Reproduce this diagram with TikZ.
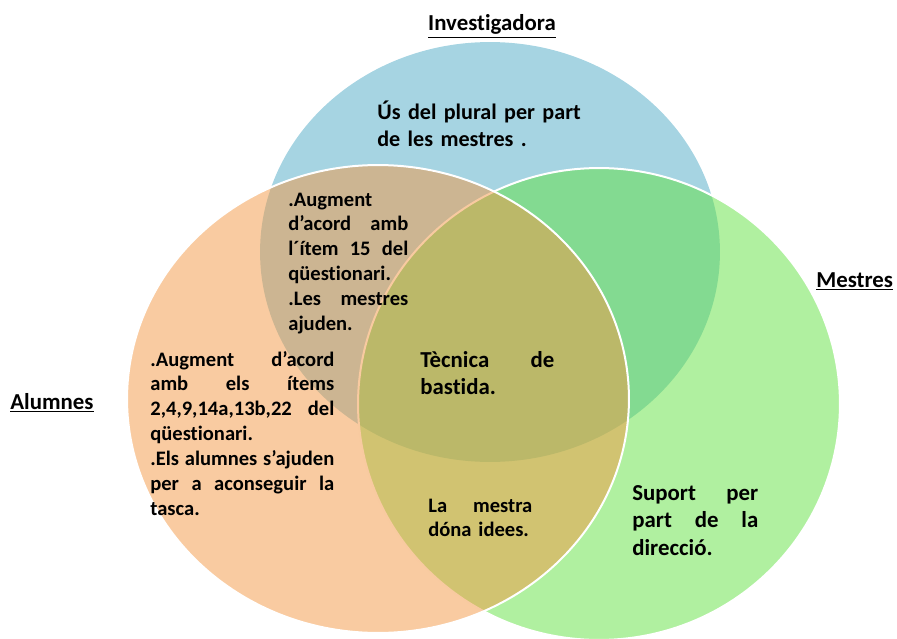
\documentclass[tikz,border=0pt]{standalone}
\usepackage{fontspec}
\setmainfont{Carlito}[Ligatures={NoCommon}]
\usetikzlibrary{shapes.geometric}
\definecolor{invblue}{RGB}{166,212,226}
\definecolor{mesgreen}{RGB}{97,225,65}
\definecolor{aluorange}{RGB}{243,151,67}

\begin{document}
\begin{tikzpicture}[x=0.02cm,y=-0.02cm,
    venn/.style={ellipse,inner sep=0pt,line width=0.04cm},
    big/.style={inner sep=0pt,anchor=base west,align=left,font=\bfseries\fontsize{13}{15.9}\selectfont},
    small/.style={inner sep=0pt,anchor=base west,align=left,font=\bfseries\fontsize{11.7}{14.2}\selectfont},
    ttl/.style={inner sep=0pt,anchor=base,font=\bfseries\fontsize{13}{15.9}\selectfont}]
  \useasboundingbox (0,0) rectangle (897,639);

  % the three sets
  \node[venn,fill=invblue,minimum width=9.2cm,minimum height=8.4cm] (inv) at (490,252) {};
  \node[venn,draw=white,fill=mesgreen,fill opacity=0.5,draw opacity=1,minimum width=9.64cm,minimum height=9.44cm] (mes) at (599,404) {};
  \node[venn,draw=white,fill=aluorange,fill opacity=0.5,draw opacity=1,minimum width=10.04cm,minimum height=9.36cm] (alu) at (378,399) {};

  % set titles
  \node[ttl] (tinv) at (492,31) {\underline{Investigadora}};
  \node[ttl,anchor=base west] (tmes) at (816,287) {\underline{Mestres}};
  \node[ttl,anchor=base west] (talu) at (10,409) {\underline{Alumnes}};

  % contents of the regions
  \node[big,text width=4.4cm,font=\bfseries\fontsize{12.6}{15.9}\selectfont] (plural) at (377,119) {Ús del plural per part\\de les mestres .};
  \node[small,text width=2.4cm] (item15) at (288,206) {.Augment\\d’acord\hfill amb\\l´ítem\hfill 15\hfill del\\qüestionari.\\.Les\hfill mestres\\ajuden.};
  \node[small,text width=3.68cm] (items) at (150,366) {.Augment\hfill d’acord\\amb\hfill els\hfill ítems\\2,4,9,14a,13b,22\hfill del\\qüestionari.\\.Els\hfill alumnes\hfill s’ajuden\\per\hfill a\hfill aconseguir\hfill la\\tasca.};
  \node[big,text width=2.68cm] (tecnica) at (420,367) {Tècnica\hfill de\\bastida.};
  \node[small,text width=2.08cm] (mestra) at (428,512) {La\hfill mestra\\dóna idees.};
  \node[big,text width=2.52cm] (suport) at (632,500) {Suport\hfill per\\part\hfill de\hfill la\\direcció.};
\end{tikzpicture}
\end{document}
